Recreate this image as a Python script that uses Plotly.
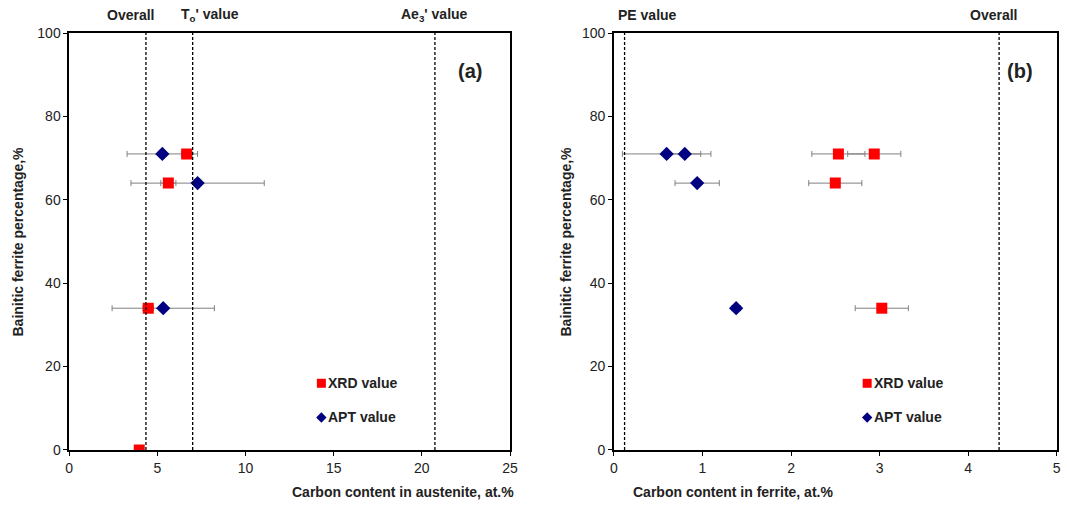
import plotly.graph_objects as go

# ---------- data ----------
# panel (a): carbon content in austenite
a_bf = [71, 64, 34, 0]
a_xrd = [6.66, 5.62, 4.48, 3.97]
a_xrd_err = [0.3, 0.43, 0.3, 0.0]
a_apt_bf = [71, 64, 34]
a_apt = [5.28, 7.28, 5.33]
a_apt_err = [2.0, 3.78, 2.9]
a_lines = [4.35, 7.0, 20.74]
a_line_labels = ["Overall", "T<sub>o</sub>' value", "Ae<sub>3</sub>' value"]
a_label_pos = [3.5, 7.98, 20.7]

# panel (b): carbon content in ferrite
b_bf = [71, 71, 64, 34]
b_xrd = [2.535, 2.94, 2.50, 3.025]
b_xrd_err = [0.3, 0.3, 0.3, 0.3]
b_apt_bf = [71, 71, 64, 34]
b_apt = [0.595, 0.80, 0.94, 1.38]
b_apt_err = [0.5, 0.18, 0.25, 0.05]
b_lines = [0.12, 4.35]
b_line_labels = ["PE value", "Overall"]
b_label_pos = [0.384, 4.29]

FONT = "Liberation Sans, Arial"
RED = "#ff0000"
NAVY = "#000080"
ERR = "#808080"
TXT = "#222"

fig = go.Figure()

def add_panel(xa, ya, xrd_y, xrd_x, xrd_e, apt_y, apt_x, apt_e):
    fig.add_trace(go.Scatter(
        x=apt_x, y=apt_y, mode="markers", xaxis=xa, yaxis=ya,
        marker=dict(symbol="diamond", size=11, color=NAVY),
        error_x=dict(type="data", array=apt_e, color=ERR, thickness=1, width=3),
        showlegend=False))
    fig.add_trace(go.Scatter(
        x=xrd_x, y=xrd_y, mode="markers", xaxis=xa, yaxis=ya,
        marker=dict(symbol="square", size=11, color=RED),
        error_x=dict(type="data", array=xrd_e, color=ERR, thickness=1, width=3),
        showlegend=False))

add_panel("x", "y", a_bf, a_xrd, a_xrd_err, a_apt_bf, a_apt, a_apt_err)
add_panel("x2", "y2", b_bf, b_xrd, b_xrd_err, b_apt_bf, b_apt, b_apt_err)

ydom = [0.1194, 0.9354]
axis_common = dict(showline=True, linecolor="black", linewidth=1.5, mirror=True,
                   ticks="outside", ticklen=4, tickcolor="black", showgrid=False,
                   zeroline=False, automargin=False,
                   tickfont=dict(family=FONT, size=14, color=TXT))

fig.update_layout(
    width=1067, height=511, margin=dict(l=0, r=0, t=0, b=0, autoexpand=False),
    plot_bgcolor="white", paper_bgcolor="white",
    xaxis=dict(domain=[0.0649, 0.478], range=[0, 25], tickvals=[0, 5, 10, 15, 20, 25],
               anchor="y", **axis_common),
    yaxis=dict(domain=ydom, range=[0, 100], tickvals=[0, 20, 40, 60, 80, 100],
               anchor="x", **axis_common),
    xaxis2=dict(domain=[0.5754, 0.9903], range=[0, 5], tickvals=[0, 1, 2, 3, 4, 5],
                anchor="y2", **axis_common),
    yaxis2=dict(domain=ydom, range=[0, 100], tickvals=[0, 20, 40, 60, 80, 100],
                anchor="x2", **axis_common),
)

ann = []
shapes = []
for xref, vals, labels, lpos in [("x", a_lines, a_line_labels, a_label_pos),
                                 ("x2", b_lines, b_line_labels, b_label_pos)]:
    for v, lab, lp in zip(vals, labels, lpos):
        shapes.append(dict(type="line", xref=xref, yref="paper", x0=v, x1=v,
                           y0=ydom[0], y1=ydom[1],
                           line=dict(color="black", width=1.3, dash="3px,2px")))
        ann.append(dict(xref=xref, yref="paper", x=lp, y=(511 - 15) / 511, text="<b>" + lab + "</b>",
                        showarrow=False, xanchor="center", yanchor="middle",
                        font=dict(family=FONT, size=14, color=TXT)))

# panel letters
ann.append(dict(xref="x domain", yref="y domain", x=0.909, y=0.91, text="<b>(a)</b>",
                showarrow=False, xanchor="center", yanchor="middle",
                font=dict(family=FONT, size=20, color=TXT)))
ann.append(dict(xref="x2 domain", yref="y2 domain", x=0.917, y=0.91, text="<b>(b)</b>",
                showarrow=False, xanchor="center", yanchor="middle",
                font=dict(family=FONT, size=20, color=TXT)))

# axis titles
for xd, txt in [(0.2715, "Carbon content in austenite, at.%"), (0.783, "Carbon content in ferrite, at.%")]:
    ann.append(dict(xref="paper", yref="paper", x=xd, y=(511 - 492) / 511, text="<b>" + txt + "</b>",
                    showarrow=False, yanchor="middle", font=dict(family=FONT, size=14, color=TXT)))
for xp in [18 / 1067, 566 / 1067]:
    ann.append(dict(xref="paper", yref="paper", x=xp, y=0.5274, text="<b>Bainitic ferrite percentage,%</b>",
                    showarrow=False, textangle=-90, xanchor="center", yanchor="middle",
                    font=dict(family=FONT, size=14, color=TXT)))

# legends (drawn as markers + text in each panel)
leg_names = ["XRD value", "APT value"]
for xa, ya, xpos in [("x", "y", 14.3), ("x2", "y2", 2.86)]:
    fig.add_trace(go.Scatter(x=[xpos], y=[16], mode="markers", xaxis=xa, yaxis=ya,
                             marker=dict(symbol="square", size=9, color=RED), showlegend=False))
    fig.add_trace(go.Scatter(x=[xpos], y=[7.8], mode="markers", xaxis=xa, yaxis=ya,
                             marker=dict(symbol="diamond", size=8, color=NAVY), showlegend=False))
    for yy, nm in zip([16, 7.8], leg_names):
        ann.append(dict(xref=xa, yref=ya, x=xpos, y=yy, xshift=5, text="<b>" + nm + "</b>",
                        showarrow=False, xanchor="left", yanchor="middle",
                        font=dict(family=FONT, size=14, color=TXT)))

fig.update_layout(annotations=ann, shapes=shapes)
fig.write_html("out.html")
